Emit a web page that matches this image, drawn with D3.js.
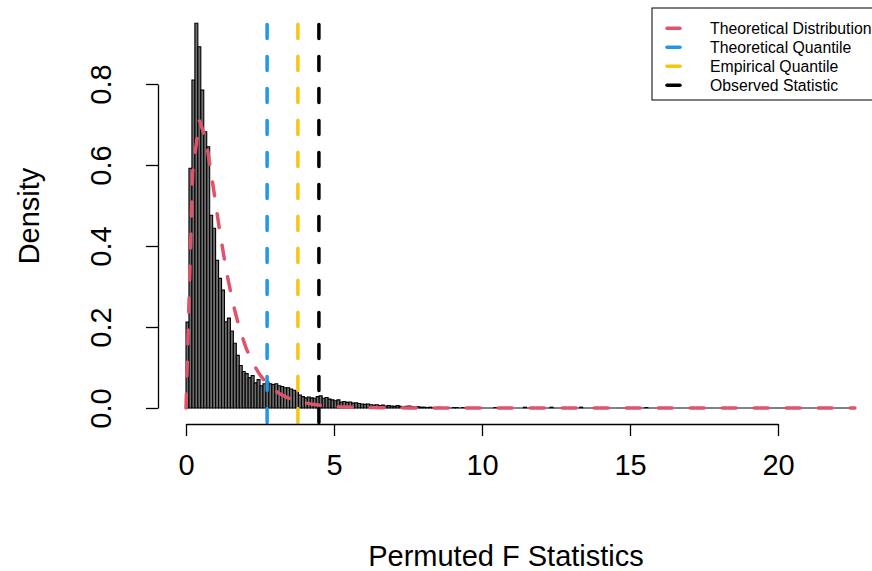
<!DOCTYPE html>
<html><head><meta charset="utf-8">
<script src="https://cdn.jsdelivr.net/npm/d3@7"></script>
<style>body{margin:0;background:#fff}svg{display:block}text{font-family:"Liberation Sans",Arial,sans-serif;fill:#000}</style>
</head><body><svg id="c" width="872" height="571"></svg>
<script>
// Histogram of permuted F statistics (density per bin, bin width 0.1, from 0)
const binWidth = 0.1;
const densities = [
0.212,0.592,0.810,0.950,0.892,0.785,0.682,0.645,0.476,0.444,
0.365,0.320,0.291,0.213,0.222,0.190,0.160,0.130,0.105,0.090,
0.085,0.075,0.080,0.062,0.070,0.055,0.060,0.065,0.060,0.058,
0.060,0.055,0.053,0.050,0.050,0.047,0.044,0.042,0.032,0.028,
0.025,0.027,0.025,0.024,0.028,0.030,0.024,0.026,0.022,0.020,
0.018,0.020,0.015,0.016,0.014,0.015,0.012,0.013,0.011,0.010,
0.009,0.010,0.008,0.007,0.008,0.006,0.007,0.005,0.006,0.005,
0.004,0.006,0.004,0.003,0.004,0.005,0.003,0.002,0.003,0.002,
0.002,0.001,0.002,0.001,0.001,0.002,0.001,0.001,0.001,0,
0.001,0.001,0,0.001,0,0.001,0,0,0.001,0,
0,0,0,0,0.001,0,0,0,0,0,
0,0,0,0,0.002,0,0,0,0,0,
0,0,0,0.002,0,0,0,0,0,0,
0,0,0,0.002,0,0,0,0,0,0,
0,0,0,0,0,0,0,0,0,0,
0,0,0,0,0,0.001,0,0,0,0,
0,0,0,0,0,0,0,0,0,0,
0,0,0,0,0,0,0,0,0,0,
0,0,0,0,0,0,0,0,0,0,
0,0,0,0,0,0,0,0,0,0,
0,0,0,0,0,0,0,0,0,0,
0,0,0,0,0,0,0,0,0,0,
0,0,0,0,0,0.001
];
// Theoretical density curve, sampled every 0.226 from 0 to 22.6
const curveStep = 0.226;
const curveDensity = [
0,0.583,0.711,0.661,0.554,0.441,0.341,0.260,0.196,0.147,
0.111,0.083,0.062,0.047,0.035,0.027,0.020,0.015,0.012,0.009,
0.007,0.005,0.004,0.003,0.0025,0.002,0.0015,0.0012,0.001,0.0008,
0.0006,0.0005,0.0004,0.0003,0.0003,0.0002,0.0002,0.0002,0.0001,0.0001,
0.0001,0,0,0,0,0,0,0,0,0,
0,0,0,0,0,0,0,0,0,0,
0,0,0,0,0,0,0,0,0,0,
0,0,0,0,0,0,0,0,0,0,
0,0,0,0,0,0,0,0,0,0,
0,0,0,0,0,0,0,0,0,0,
0
];
const vLines = [
  {name:"Theoretical Distribution", value:null, color:"#DF536B"},
  {name:"Theoretical Quantile", value:2.74, color:"#2297E6"},
  {name:"Empirical Quantile", value:3.78, color:"#F5C710"},
  {name:"Observed Statistic", value:4.49, color:"#000000"}
];
const xTicks = [0,5,10,15,20];
const yTicks = [0,0.2,0.4,0.6,0.8];
const xTitle = "Permuted F Statistics";
const yTitle = "Density";

const svg = d3.select("#c");
const x = d3.scaleLinear().domain([0,20]).range([186,778]);
const y = d3.scaleLinear().domain([0,0.8]).range([408,84]);
const plotTop = 8, plotBottom = 424;
const FS = 29;

// histogram bars (paths so that empty bins still draw their outline on the baseline)
svg.append("g").selectAll("path").data(densities).join("path")
  .attr("d", (d,i)=>{
    const x0 = x(i*binWidth), x1 = x((i+1)*binWidth), y0 = y(0), y1 = y(d);
    return `M${x0},${y0}V${y1}H${x1}V${y0}Z`;
  })
  .attr("fill","#6e6e6e").attr("stroke","#000").attr("stroke-width",1.1);

// theoretical curve
const line = d3.line().x((d,i)=>x(i*curveStep)).y(d=>y(d));
svg.append("path").datum(curveDensity).attr("d",line)
  .attr("fill","none").attr("stroke",vLines[0].color).attr("stroke-width",3.5)
  .attr("stroke-dasharray","14,18").attr("stroke-linecap","round");

// vertical lines (drawn bottom to top)
svg.append("g").selectAll("line").data(vLines.filter(d=>d.value!==null)).join("line")
  .attr("x1",d=>x(d.value)).attr("x2",d=>x(d.value))
  .attr("y1",plotBottom).attr("y2",plotTop)
  .attr("stroke",d=>d.color).attr("stroke-width",3.5)
  .attr("stroke-dasharray","14,18").attr("stroke-linecap","round")
  .attr("transform","translate(0,-1.5)");

// x axis
const xa = svg.append("g").attr("transform",`translate(0,${plotBottom})`)
  .call(d3.axisBottom(x).tickValues(xTicks).tickSize(12).tickPadding(18).tickSizeOuter(0).tickFormat(d3.format("d")));
xa.select(".domain").attr("stroke","#000").attr("stroke-width",1.3);
xa.selectAll(".tick line").attr("stroke","#000").attr("stroke-width",1.3);
xa.selectAll("text").attr("font-size",FS).attr("font-family","Liberation Sans, Arial, sans-serif").attr("dy","0.71em");

// y axis
const ya = svg.append("g").attr("transform","translate(158,0)")
  .call(d3.axisLeft(y).tickValues(yTicks).tickSize(12).tickSizeOuter(0).tickFormat(d3.format(".1f")));
ya.select(".domain").attr("stroke","#000").attr("stroke-width",1.3);
ya.selectAll(".tick line").attr("stroke","#000").attr("stroke-width",1.3);
ya.selectAll(".tick text").attr("font-size",FS).attr("font-family","Liberation Sans, Arial, sans-serif")
  .attr("x",null).attr("dy",null).attr("text-anchor","middle")
  .attr("transform","translate(-47,0) rotate(-90)");

// titles
svg.append("text").attr("x",506).attr("y",566).attr("text-anchor","middle").attr("font-size",FS).text(xTitle);
svg.append("text").attr("transform","translate(39,216) rotate(-90)").attr("text-anchor","middle").attr("font-size",FS).text(yTitle);

// legend
const lg = svg.append("g");
lg.append("rect").attr("x",652).attr("y",8).attr("width",260).attr("height",92)
  .attr("fill","#fff").attr("stroke","#000").attr("stroke-width",1);
const rows = lg.selectAll("g.row").data(vLines).join("g").attr("class","row")
  .attr("transform",(d,i)=>`translate(0,${28.3+i*19})`);
rows.append("line").attr("x1",667).attr("x2",680).attr("y1",0).attr("y2",0)
  .attr("stroke",d=>d.color).attr("stroke-width",3.5).attr("stroke-linecap","round");
rows.append("text").attr("x",710).attr("y",5.5).attr("font-size",15.8).text(d=>d.name);
</script></body></html>
